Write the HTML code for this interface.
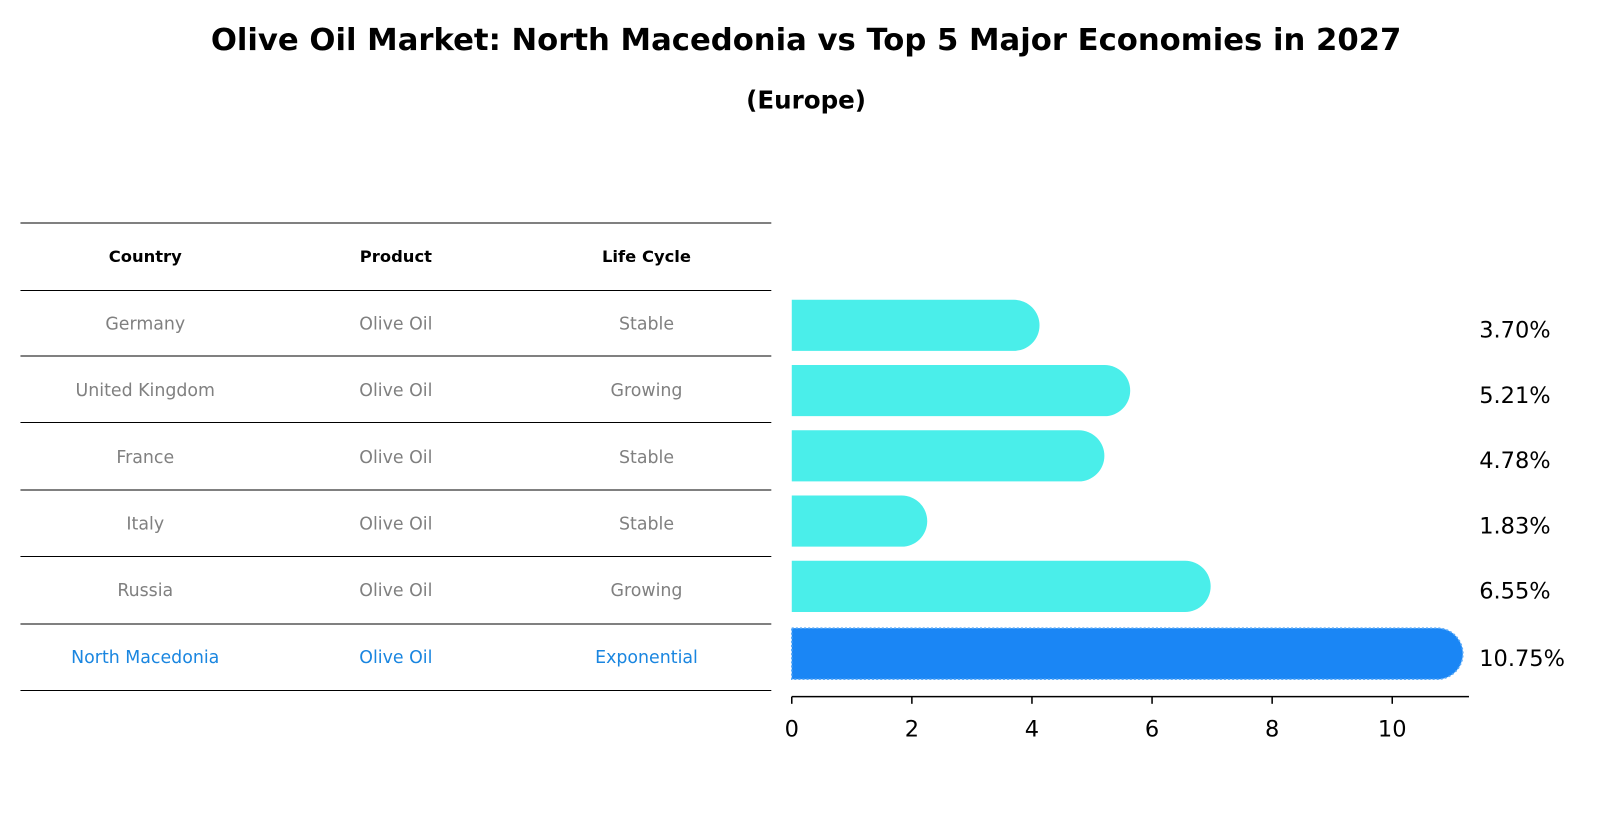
<!DOCTYPE html>
<html><head><meta charset="utf-8"><style>
body{margin:0;background:#fff;font-family:"Liberation Sans","DejaVu Sans",sans-serif;}
#wrap{position:relative;width:1604px;height:823px;overflow:hidden;}
</style></head><body>
<div id="wrap">
<svg id="svg" width="1604" height="823" viewBox="0 0 1568 804.5">
<text x="788" y="49" text-anchor="middle" font-size="30" font-weight="bold" font-family="DejaVu Sans,sans-serif">Olive Oil Market: North Macedonia vs Top 5 Major Economies in 2027</text>
<text x="788" y="106" text-anchor="middle" font-size="24" font-weight="bold" font-family="DejaVu Sans,sans-serif">(Europe)</text>
</svg>
</div>
<script>
const countries=["Germany","United Kingdom","France","Italy","Russia","North Macedonia"];
const products=["Olive Oil","Olive Oil","Olive Oil","Olive Oil","Olive Oil","Olive Oil"];
const lifeCycles=["Stable","Growing","Stable","Stable","Growing","Exponential"];
const values=[3.70,5.21,4.78,1.83,6.55,10.75];
const valueLabels=["3.70%","5.21%","4.78%","1.83%","6.55%","10.75%"];
const ticks=[0,2,4,6,8,10];
const NS="http://www.w3.org/2000/svg";
const svg=document.getElementById('svg');
function mk(t,a,txt){const e=document.createElementNS(NS,t);for(const k in a)e.setAttribute(k,a[k]);if(txt!=null)e.textContent=txt;svg.appendChild(e);return e;}
const x0=774,ppu=58.7;
const xs=v=>x0+v*ppu;
const rowY=i=>318+i*63.8;
const F="DejaVu Sans,sans-serif";
const lineYs=[218,284];
for(let i=0;i<countries.length;i++)lineYs.push(Math.round(348+i*65.4));
lineYs.forEach((y,i)=>{const l=mk('line',{x1:20,x2:754,y1:y,y2:y,stroke:'#000','stroke-width':1});

});
const cx=[142,387,632];
["Country","Product","Life Cycle"].forEach((h,j)=>{const t=mk('text',{x:cx[j],y:256,'text-anchor':'middle','font-size':16,'font-weight':'bold','font-family':F},h);

});
countries.forEach((c,i)=>{
 const y=322+i*65.2;const last=i===countries.length-1;const col=last?'#1a86e0':'#808080';
 [c,products[i],lifeCycles[i]].forEach((v,j)=>{const t=mk('text',{x:cx[j],y:y,'text-anchor':'middle','font-size':17,fill:col,'font-family':F},v);
 
 });
});
values.forEach((v,i)=>{
 const last=i===values.length-1;const yc=rowY(i)+(last?2:0);const h=50;const r=25;
 const xe=xs(v);
 const d=`M${x0},${yc-h/2} L${xe},${yc-h/2} A${r},${r} 0 0 1 ${xe},${yc+h/2} L${x0},${yc+h/2} Z`;
 const p=mk('path',{d:d,fill:last?'#1a86f5':'#4aeeea',stroke:last?'#5aaaf8':'none','stroke-width':last?1.5:0,'stroke-dasharray':last?'2,2':''});
 
 
 const t=mk('text',{x:1446,y:yc+12,'font-size':22,'font-family':F},valueLabels[i]);
 
 
});
const ax=mk('line',{x1:x0,x2:1436,y1:681,y2:681,stroke:'#000','stroke-width':1.5});


ticks.forEach(t=>{
 const tl=mk('line',{x1:xs(t),x2:xs(t),y1:681,y2:688,stroke:'#000','stroke-width':1.5});
 
 
 const tx=mk('text',{x:xs(t),y:720,'text-anchor':'middle','font-size':22,'font-family':F},String(t));
 
 
});
</script>
</body></html>
